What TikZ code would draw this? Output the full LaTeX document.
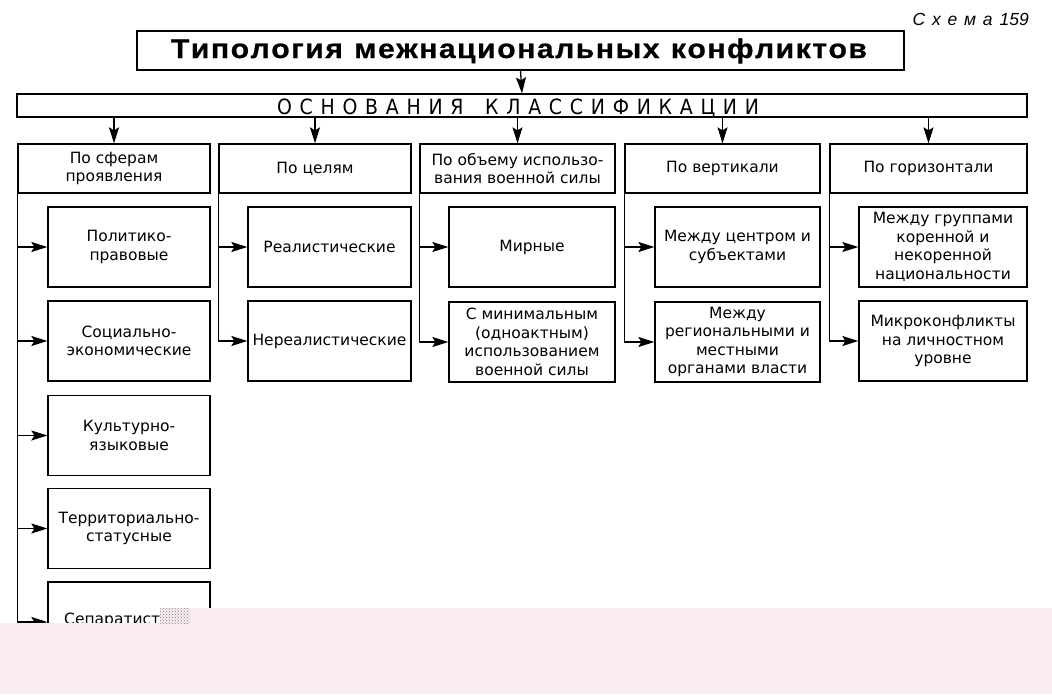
\documentclass[tikz,border=0pt]{standalone}
\usepackage{fontspec}
\setmainfont{DejaVu Sans}
\newfontfamily\titlefont{Liberation Sans}[FakeStretch=1.12, FakeBold=0.6]
\newfontfamily\basefont{DejaVu Sans Condensed}
\newfontfamily\schfont{Liberation Sans}
\usetikzlibrary{arrows.meta,patterns}
\makeatletter
\def\sprd#1{#1\futurelet\sprd@next\sprd@aux}
\def\sprd@aux{\ifx\sprd@next\relax\expandafter\@gobble\else\hfill\expandafter\sprd\fi}
\makeatother
\definecolor{pinkbg}{RGB}{250,237,241}
\begin{document}
\begin{tikzpicture}[x=1pt,y=-1pt,
  box/.style={draw, line width=1.3pt, inner sep=0pt, align=center,
    font=\fontsize{15.5}{18.5}\selectfont},
  cat/.style={box, minimum height=49pt},
  ch/.style={box, minimum height=80pt},
  arr/.style={line width=1.3pt, -{Stealth[length=16pt,width=10pt,inset=3pt]}},
  ln/.style={line width=1.3pt}]
\useasboundingbox (0,0) rectangle (1052,694);
% header
\node[anchor=base east, font=\schfont\itshape\fontsize{17.5}{17.5}\selectfont, inner sep=0pt] (sch) at (1029,25)
  {\makebox[80pt][s]{\sprd Схема\relax}\hspace{7pt}159};
\node[draw, line width=1.3pt, minimum width=767pt, minimum height=39pt, inner sep=0pt] (title) at (520.5,50.5) {};
\node[anchor=base, inner sep=0pt, font=\titlefont\bfseries\fontsize{27}{27}\selectfont] (titletext) at (519,58)
  {\makebox[696pt][s]{\sprd Типология~межнациональных~конфликтов\relax}};
\node[draw, line width=1.3pt, minimum width=1010pt, minimum height=23pt, inner sep=0pt] (base) at (522,105.5) {};
\node[anchor=base, inner sep=0pt, font=\basefont\fontsize{21}{21}\selectfont] (basetext) at (518,114)
  {\makebox[482pt][s]{\sprd ОСНОВАНИЯ~КЛАССИФИКАЦИИ\relax}};
\draw[arr] (title.south) -- (base.north);
% categories
\node[cat, minimum width=192pt] (k1) at (114,168.5) {По сферам\\проявления};
\node[cat, minimum width=192pt] (k2) at (315,168.5) {По целям};
\node[cat, minimum width=195pt] (k3) at (517.5,168.5) {По объему использо-\\вания военной силы};
\node[cat, minimum width=195pt] (k4) at (722.5,168.5) {По вертикали};
\node[cat, minimum width=197pt] (k5) at (928.5,168.5) {По горизонтали};
\foreach \k in {k1,k2,k3,k4,k5} {\draw[arr] (\k.north |- base.south) -- (\k.north);}
% column 1
\node[ch, minimum width=162pt] (a1) at (129,247) {Политико-\\правовые};
\node[ch, minimum width=162pt] (a2) at (129,341) {Социально-\\экономические};
\node[ch, minimum width=162pt] (a3) at (129,435.5) {Культурно-\\языковые};
\node[ch, minimum width=162pt] (a4) at (129,528.5) {Территориально-\\статусные};
\node[ch, minimum width=162pt] (a5) at (129,622) {};
\node[anchor=base west, inner sep=0pt, font=\fontsize{15.5}{18.5}\selectfont] (a5t) at (64,624.5) {Сепаратист};
\draw[arr] (k1.south west) |- (a5.west);
\foreach \c in {a1,a2,a3,a4} {\draw[arr] (k1.south west |- \c.west) -- (\c.west);}
% column 2
\node[ch, minimum width=163pt] (b1) at (329.5,247) {Реалистические};
\node[ch, minimum width=163pt] (b2) at (329.5,341) {Нереалистические};
\draw[arr] (k2.south west) |- (b2.west);
\draw[arr] (k2.south west |- b1.west) -- (b1.west);
% column 3
\node[ch, minimum width=166pt] (c1) at (532,247) {Мирные};
\node[ch, minimum width=166pt] (c2) at (532,342) {С минимальным\\(одноактным)\\использованием\\военной силы};
\draw[arr] (k3.south west) |- (c2.west);
\draw[arr] (k3.south west |- c1.west) -- (c1.west);
% column 4
\node[ch, minimum width=165pt] (d1) at (737.5,247) {Между центром и\\субъектами};
\node[ch, minimum width=165pt] (d2) at (737.5,342) {Между\\региональными и\\местными\\органами власти};
\draw[arr] (k4.south west) |- (d2.west);
\draw[arr] (k4.south west |- d1.west) -- (d1.west);
% column 5
\node[ch, minimum width=168pt] (e1) at (943,247) {Между группами\\коренной и\\некоренной\\национальности};
\node[ch, minimum width=168pt] (e2) at (943,341) {Микроконфликты\\на личностном\\уровне};
\draw[arr] (k5.south west) |- (e2.west);
\draw[arr] (k5.south west |- e1.west) -- (e1.west);
% overlay at the bottom
\fill[pinkbg] (0,623) rectangle (1052,694);
\fill[pinkbg] (160,608) rectangle (1052,623);
\fill[pattern=crosshatch dots, pattern color=gray] (160,608) rectangle (190,623);
\end{tikzpicture}
\end{document}
